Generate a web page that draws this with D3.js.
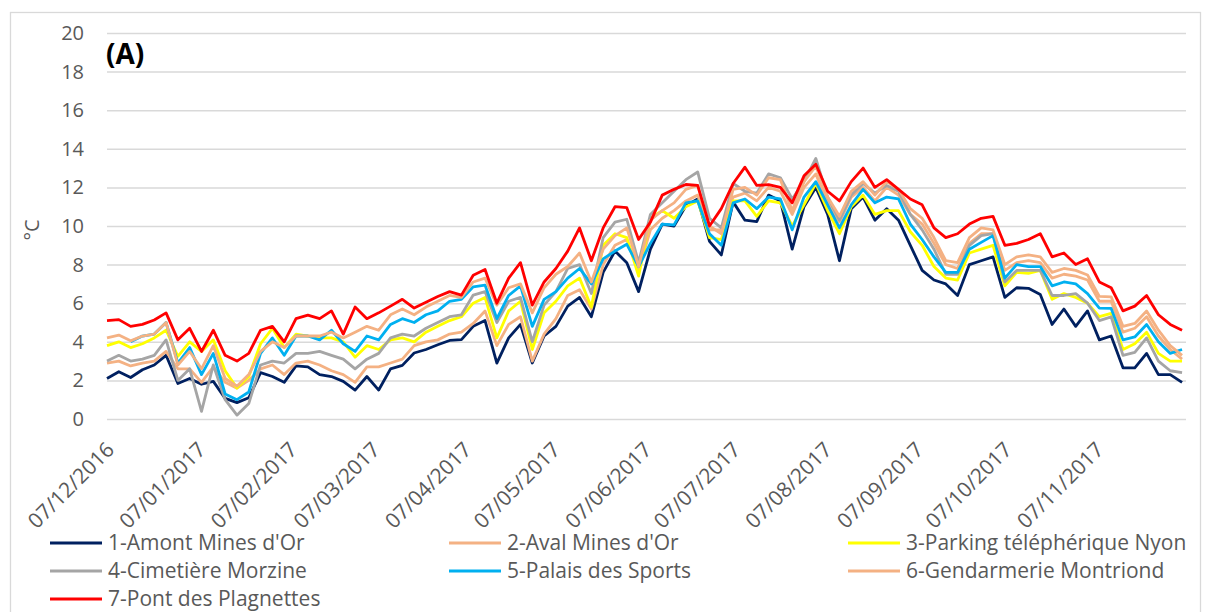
<!DOCTYPE html>
<html lang="en">
<head>
<meta charset="utf-8">
<title>Températures journalières</title>
<script src="https://cdn.jsdelivr.net/npm/d3@7"></script>
<style>
  body { margin: 0; background: #fff; }
  svg text { font-family: "Open Sans", sans-serif; fill: #595959; }
  .axis path { display: none; }
  .y.axis line { stroke: #d9d9d9; stroke-width: 1.5; }
  .x.axis line { display: none; }
  .series { fill: none; stroke-width: 2.8; stroke-linejoin: round; }
</style>
</head>
<body>
<script>
var w = 1206, h = 612;
var plotLeft = 107, plotRight = 1185, plotTop = 33, plotBottom = 419;

// one value every 4 days from 07/12/2016
var startDate = new Date(2016, 11, 7);
var endDate = new Date(2017, 11, 7);
var stepDays = 4;

var names = ["1-Amont Mines d'Or", "2-Aval Mines d'Or", "3-Parking téléphérique Nyon",
             "4-Cimetière Morzine", "5-Palais des Sports", "6-Gendarmerie Montriond",
             "7-Pont des Plagnettes"];
var colors = ["#002060", "#f4b183", "#ffff00", "#a5a5a5", "#00b0f0", "#f4b183", "#ff0000"];

var amont = [2.1,2.45,2.15,2.55,2.8,3.3,1.84,2.1,1.8,1.95,1.07,0.85,1.1,2.4,2.2,1.9,2.75,2.7,2.3,2.2,
  1.95,1.5,2.2,1.5,2.6,2.78,3.42,3.6,3.85,4.07,4.11,4.8,5.1,2.9,4.2,4.9,2.9,4.3,4.8,5.85,
  6.3,5.3,7.6,8.7,8.1,6.6,8.8,10.1,10.0,11.05,11.4,9.2,8.5,11.25,10.3,10.23,11.6,11.3,8.8,11.0,
  12.0,10.6,8.2,10.9,11.5,10.3,10.9,10.3,9.0,7.7,7.2,7.0,6.4,8.0,8.2,8.4,6.3,6.8,6.77,6.45,
  4.9,5.7,4.8,5.6,4.1,4.3,2.65,2.65,3.4,2.3,2.3,1.9];
var aval = [2.9,3.0,2.75,2.9,3.0,3.5,2.6,2.6,1.9,2.7,1.9,1.6,2.0,2.6,2.8,2.3,2.9,3.0,2.8,2.5,
  2.3,1.9,2.7,2.7,2.9,3.1,3.8,4.0,4.1,4.4,4.5,4.95,5.6,3.8,4.9,5.3,3.0,4.4,5.2,6.4,
  6.7,5.7,8.0,9.0,9.3,7.7,9.8,10.4,10.8,11.3,11.6,9.8,9.8,11.5,11.7,11.3,12.0,11.8,10.6,12.0,
  12.7,11.2,10.2,11.5,12.0,11.3,12.0,11.6,10.6,10.1,9.1,8.0,7.8,9.1,9.6,9.6,7.7,8.1,8.2,8.1,
  7.3,7.5,7.4,7.2,6.1,6.1,4.5,4.7,5.3,4.3,3.6,3.1];
var parking = [3.8,4.0,3.7,3.9,4.2,4.6,3.25,4.0,3.5,4.1,2.5,1.6,2.2,3.9,4.7,3.7,4.4,4.3,4.2,4.2,
  4.0,3.2,3.8,3.6,4.1,4.2,4.0,4.5,4.8,5.1,5.3,6.0,6.3,4.2,5.6,6.1,3.6,5.5,6.1,6.9,
  7.3,5.8,9.0,9.6,9.4,7.4,10.4,10.8,10.4,11.0,11.3,9.4,9.3,11.3,11.3,10.5,11.3,11.2,10.0,11.1,
  12.2,10.8,9.6,11.0,11.6,10.6,10.8,10.8,9.7,9.0,7.9,7.3,7.2,8.6,8.8,9.0,6.9,7.6,7.55,7.7,
  6.2,6.5,6.3,6.0,5.3,5.47,3.6,3.9,4.5,3.4,3.0,3.0];
var cimetiere = [3.0,3.3,3.0,3.1,3.3,4.1,2.0,2.6,0.4,2.8,1.0,0.2,0.8,2.8,3.0,2.9,3.4,3.4,3.5,3.3,
  3.1,2.6,3.1,3.4,4.2,4.4,4.3,4.7,5.0,5.3,5.4,6.42,6.6,5.0,6.1,6.3,4.0,5.9,6.6,7.8,
  8.0,6.5,9.4,10.2,10.35,8.1,10.6,11.2,11.8,12.4,12.8,10.4,9.9,12.2,11.8,11.7,12.7,12.5,11.4,12.3,
  13.5,11.5,10.3,11.6,12.2,11.7,12.1,11.8,10.6,9.8,8.8,7.5,7.5,9.0,9.5,9.6,7.1,7.7,7.7,7.7,
  6.4,6.4,6.5,6.0,5.1,5.29,3.3,3.45,4.2,3.0,2.5,2.4];
var palais = [null,null,4.0,4.3,4.4,5.0,2.9,3.7,2.3,3.4,1.3,1.0,1.4,3.4,4.2,3.3,4.3,4.3,4.1,4.6,
  3.9,3.5,4.3,4.1,4.9,5.2,5.0,5.4,5.6,6.1,6.2,6.85,6.94,5.2,6.4,6.9,4.8,6.2,6.6,7.3,
  7.8,7.0,8.3,8.7,9.05,7.9,9.1,10.1,10.06,11.2,11.3,9.6,9.0,11.2,11.4,10.9,11.5,11.4,9.8,11.5,
  12.3,11.1,9.9,11.1,11.9,11.2,11.5,11.4,10.1,9.3,8.4,7.6,7.6,8.8,9.15,9.5,7.3,8.0,7.9,7.9,
  6.9,7.1,7.0,6.5,5.75,5.73,4.1,4.25,4.9,4.0,3.4,3.6];
var gendarmerie = [4.2,4.35,4.05,4.3,4.4,5.0,2.8,3.5,2.6,3.8,2.1,1.7,2.3,3.5,4.0,3.7,4.3,4.3,4.3,4.5,
  4.2,4.5,4.8,4.6,5.4,5.7,5.4,5.8,6.1,6.4,6.3,7.1,7.3,5.9,6.8,7.0,5.5,6.8,7.5,7.9,
  8.6,7.1,8.8,9.5,9.9,7.9,10.3,10.8,11.2,11.9,12.1,10.0,9.6,11.9,12.0,11.6,12.5,12.4,10.8,12.3,
  13.1,11.5,10.5,11.8,12.3,11.6,12.3,11.9,10.9,10.4,9.4,8.2,8.1,9.4,9.9,9.8,8.0,8.4,8.5,8.4,
  7.6,7.8,7.7,7.46,6.35,6.33,4.8,4.95,5.6,4.6,3.8,3.3];
var plagnettes = [5.1,5.15,4.8,4.9,5.13,5.5,4.1,4.7,3.5,4.6,3.3,3.0,3.4,4.6,4.8,4.0,5.2,5.38,5.2,5.6,
  4.4,5.8,5.2,5.5,5.85,6.2,5.75,6.05,6.35,6.6,6.42,7.45,7.75,6.0,7.3,8.1,5.9,7.1,7.8,8.7,
  9.9,8.2,9.9,11.0,10.95,9.3,10.2,11.6,11.9,12.15,12.1,10.0,10.9,12.2,13.05,12.1,12.14,12.0,11.2,12.6,
  13.2,11.8,11.3,12.3,13.0,12.0,12.4,11.9,11.4,11.1,9.9,9.4,9.6,10.1,10.4,10.5,9.0,9.1,9.3,9.6,
  8.4,8.6,8.0,8.3,7.1,6.8,5.6,5.85,6.4,5.4,4.9,4.6];

var series = [amont, aval, parking, cimetiere, palais, gendarmerie, plagnettes];

var yTicks = [0, 2, 4, 6, 8, 10, 12, 14, 16, 18, 20];
var xTickLabels = ["07/12/2016", "07/01/2017", "07/02/2017", "07/03/2017", "07/04/2017", "07/05/2017",
                   "07/06/2017", "07/07/2017", "07/08/2017", "07/09/2017", "07/10/2017", "07/11/2017"];

var dates = amont.map(function(d, i){ return d3.timeDay.offset(startDate, i * stepDays); });
var tickDates = xTickLabels.map(function(s){
    var p = s.split("/");
    return new Date(+p[2], +p[1] - 1, +p[0]);
});

var xScale = d3.scaleTime().domain([startDate, endDate]).range([plotLeft, plotRight]);
var yScale = d3.scaleLinear().domain([0, 20]).range([plotBottom, plotTop]);

var svg = d3.select("body").append("svg")
    .attr("width", w)
    .attr("height", h);

// chart frame
svg.append("rect")
    .attr("x", 10.5).attr("y", 12.5)
    .attr("width", 1190).attr("height", 640)
    .attr("fill", "none")
    .attr("stroke", "#d9d9d9")
    .attr("stroke-width", 1.3);

// y axis with gridlines
var yAxis = d3.axisLeft(yScale)
    .tickValues(yTicks)
    .tickSize(-(plotRight - plotLeft + 1))
    .tickPadding(23);

svg.append("g")
    .attr("class", "y axis")
    .attr("transform", "translate(" + plotLeft + ",0)")
    .call(yAxis)
    .selectAll("text")
    .style("font-size", "20px");

// x axis, labels turned 45 degrees
var xAxis = d3.axisBottom(xScale)
    .tickValues(tickDates)
    .tickSize(0)
    .tickFormat(function(d, i){ return xTickLabels[i]; });

svg.append("g")
    .attr("class", "x axis")
    .attr("transform", "translate(0," + plotBottom + ")")
    .call(xAxis)
    .selectAll("text")
    .style("font-size", "21px")
    .attr("text-anchor", "end")
    .attr("y", null)
    .attr("dy", null)
    .attr("transform", "translate(8,32) rotate(-45)");

// lines
var line = d3.line()
    .defined(function(v){ return v != null; })
    .x(function(v, i){ return xScale(dates[i]); })
    .y(function(v){ return yScale(v); });

svg.selectAll("path.series")
    .data(series)
    .enter()
    .append("path")
    .attr("class", "series")
    .attr("stroke", function(d, i){ return colors[i]; })
    .attr("d", line);

// titles
svg.append("text")
    .attr("transform", "translate(39,230) rotate(-90)")
    .attr("text-anchor", "middle")
    .style("font-size", "20px")
    .text("°C");

svg.append("text")
    .attr("x", 106).attr("y", 64)
    .style("font-size", "28px")
    .style("font-weight", "bold")
    .style("fill", "#000")
    .text("(A)");

// legend, 3 columns
var legend = svg.selectAll("g.legend")
    .data(names)
    .enter()
    .append("g")
    .attr("class", "legend")
    .attr("transform", function(d, i){
        return "translate(" + (50 + (i % 3) * 399) + "," + (543 + Math.floor(i / 3) * 28) + ")";
    });

legend.append("line")
    .attr("x1", 0).attr("x2", 52)
    .attr("stroke", function(d, i){ return colors[i]; })
    .attr("stroke-width", 2.8);

legend.append("text")
    .attr("x", 58).attr("y", 7)
    .style("font-size", "21px")
    .text(function(d){ return d; });
</script>
</body>
</html>
